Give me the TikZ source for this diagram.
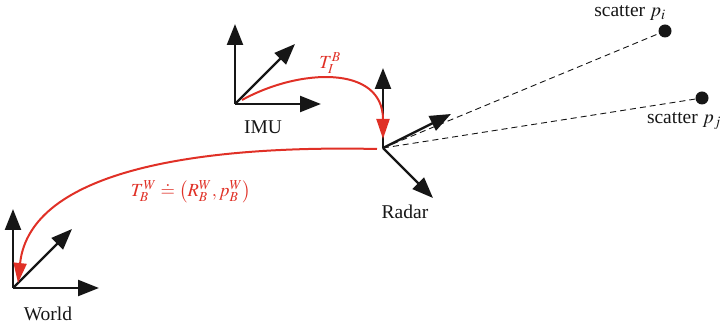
\documentclass[tikz,border=0pt]{standalone}
\usepackage{mathptmx}
\usepackage[no-math]{fontspec}
\setmainfont{Liberation Serif}
\usetikzlibrary{arrows.meta}
\definecolor{myred}{RGB}{224,48,38}
\definecolor{myblack}{RGB}{22,22,22}
\begin{document}
\begin{tikzpicture}[x=1pt,y=-1pt,
  axis/.style={line width=2.4pt, draw=myblack, -{Triangle[length=21pt,width=16pt]}},
  tf/.style={line width=2pt, draw=myred, -{Triangle[length=20pt,width=13pt]}},
  ray/.style={line width=0.9pt, draw=myblack, dash pattern=on 6pt off 4pt},
  lbl/.style={font=\fontsize{19.5}{22}\selectfont, inner sep=0pt, text=myblack},
  rlbl/.style={font=\fontsize{18.5}{22}\selectfont, inner sep=0pt, text=myred},
  dot/.style={circle, fill=myblack, inner sep=0pt, minimum size=13pt}]
\useasboundingbox (0,0) rectangle (724,328);
% frames
\coordinate (W) at (13,288);
\coordinate (Wz) at (13,209);
\coordinate (Wx) at (99,288);
\coordinate (Wy) at (72,229);
\coordinate (I) at (235,104);
\coordinate (Iz) at (235,24);
\coordinate (Ix) at (321,104);
\coordinate (Iy) at (295,44);
\coordinate (R) at (383,148);
\coordinate (Rz) at (383,68);
\coordinate (Rx) at (451,114);
\coordinate (Ry) at (433,198);
% scatters
\node[dot] (pi) at (665,31) {};
\node[dot] (pj) at (702,98) {};
\draw[ray] (R) -- (pi);
\draw[ray] (R) -- (pj);
% axes
\draw[axis] (W) -- (Wz);
\draw[axis] (W) -- (Wx);
\draw[axis] (W) -- (Wy);
\draw[axis] (I) -- (Iz);
\draw[axis] (I) -- (Ix);
\draw[axis] (I) -- (Iy);
\draw[axis] (R) -- (Rz);
\draw[axis] (R) -- (Rx);
\draw[axis] (R) -- (Ry);
% labels
\node[lbl] (lw) at (48,314) {World};
\node[lbl] (li) at (263,127) {IMU};
\node[lbl] (lr) at (405,212) {Radar};
\node[lbl] (lpi) at (630,13) {scatter $p_i$};
\node[lbl] (lpj) at (684,121) {scatter $p_j$};
% transforms
\coordinate (a1) at (242,100);
\coordinate (b1) at (383,139);
\draw[tf] (a1) .. controls (300,68) and (383,65) .. (b1);
\coordinate (a2) at (377,149);
\coordinate (b2) at (18,283);
\draw[tf] (a2) .. controls (200,145) and (30,170) .. (b2);
\node[rlbl] (tib) at (330,63) {$T_I^B$};
\node[rlbl] (tbw) at (191,192) {$T_B^W \doteq \left(R_B^W, p_B^W\right)$};
\end{tikzpicture}
\end{document}
